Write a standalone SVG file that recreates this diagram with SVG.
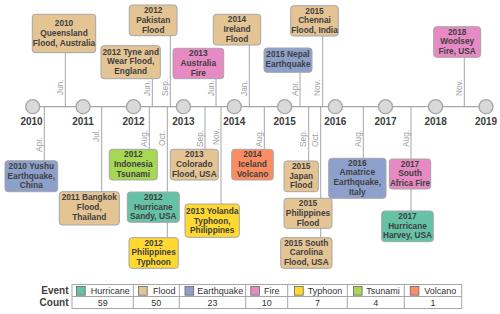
<svg xmlns="http://www.w3.org/2000/svg" width="500" height="314" viewBox="0 0 500 314">
<style>
.bx{stroke:#a6a6a6;stroke-width:1}
.fl{fill:#e5c494}.hu{fill:#66c2a5}.eq{fill:#8da0cb}.fi{fill:#e78ac3}.ty{fill:#ffd92f}.ts{fill:#a6d854}.vo{fill:#fc8d62}
.bt{font-family:"Liberation Sans",Arial,sans-serif;font-weight:bold;font-size:8.3px;fill:#404040;text-anchor:middle}
.yr{font-family:"Liberation Sans",Arial,sans-serif;font-weight:bold;font-size:10px;fill:#404040;text-anchor:middle}
.mo{font-family:"Liberation Sans",Arial,sans-serif;font-size:8.3px;fill:#a0a0a0}
.cn line{stroke:#a6a6a6;stroke-width:1}
.yc{fill:#d9d9d9;stroke:#a6a6a6;stroke-width:1.3}
.lg{font-family:"Liberation Sans",Arial,sans-serif;font-size:9px;fill:#333;text-anchor:middle}
.lh{font-family:"Liberation Sans",Arial,sans-serif;font-weight:bold;font-size:10px;fill:#404040;text-anchor:end}
.tb{fill:#fff;stroke:#a6a6a6;stroke-width:1}
.sw{stroke:#666;stroke-width:0.8}
</style>

<g id="connectors" class="cn">
<line x1="32.7" y1="106.7" x2="486.3" y2="106.7" style="stroke-width:1.3"/>
<line x1="65.3" y1="106.7" x2="65.3" y2="52.7"/>
<line x1="152.3" y1="106.7" x2="152.3" y2="78.7"/>
<line x1="170.3" y1="106.7" x2="170.3" y2="35.7"/>
<line x1="216" y1="106.7" x2="216" y2="78.7"/>
<line x1="249.3" y1="106.7" x2="249.3" y2="45"/>
<line x1="300" y1="106.7" x2="300" y2="72.3"/>
<line x1="322.7" y1="106.7" x2="322.7" y2="36"/>
<line x1="464.3" y1="106.7" x2="464.3" y2="57.3"/>
<line x1="44.3" y1="106.7" x2="44.3" y2="160.7"/>
<line x1="101.7" y1="106.7" x2="101.7" y2="191.7"/>
<line x1="149.3" y1="106.7" x2="149.3" y2="149.3"/>
<line x1="167.3" y1="106.7" x2="167.3" y2="237.7"/>
<line x1="205" y1="106.7" x2="205" y2="149.3"/>
<line x1="221" y1="106.7" x2="221" y2="204"/>
<line x1="264.3" y1="106.7" x2="264.3" y2="149.3"/>
<line x1="308.7" y1="106.7" x2="308.7" y2="161"/>
<line x1="320.7" y1="106.7" x2="320.7" y2="237.7"/>
<line x1="363.3" y1="106.7" x2="363.3" y2="158.3"/>
<line x1="411" y1="106.7" x2="411" y2="211"/>
</g>

<g id="months" class="mo">
<text transform="translate(62.8,95) rotate(-90)">Jun.</text>
<text transform="translate(149.8,96) rotate(-90)">Jun.</text>
<text transform="translate(167.8,96) rotate(-90)">Sep.</text>
<text transform="translate(213.5,96) rotate(-90)">Jun.</text>
<text transform="translate(246.8,96) rotate(-90)">Jan.</text>
<text transform="translate(297.5,96) rotate(-90)">Apr.</text>
<text transform="translate(320.2,96) rotate(-90)">Nov.</text>
<text transform="translate(461.8,96) rotate(-90)">Nov.</text>
<text transform="translate(41.8,152) rotate(-90)">Apr.</text>
<text transform="translate(99.2,142) rotate(-90)">Jul.</text>
<text transform="translate(146.8,147) rotate(-90)">Aug.</text>
<text transform="translate(164.8,146) rotate(-90)">Oct.</text>
<text transform="translate(202.5,147) rotate(-90)">Sep.</text>
<text transform="translate(218.5,145) rotate(-90)">Nov.</text>
<text transform="translate(261.8,147) rotate(-90)">Aug.</text>
<text transform="translate(306.2,147) rotate(-90)">Sep.</text>
<text transform="translate(318.2,147) rotate(-90)">Oct.</text>
<text transform="translate(360.8,147) rotate(-90)">Aug.</text>
<text transform="translate(408.5,147) rotate(-90)">Aug.</text>
</g>

<g id="years">
<circle class="yc" cx="32.7" cy="106.7" r="7"/><text class="yr" x="31.5" y="124.5">2010</text>
<circle class="yc" cx="83.1" cy="106.7" r="7"/><text class="yr" x="83.1" y="124.5">2011</text>
<circle class="yc" cx="133.5" cy="106.7" r="7"/><text class="yr" x="133.5" y="124.5">2012</text>
<circle class="yc" cx="183.4" cy="106.7" r="7"/><text class="yr" x="183.4" y="124.5">2013</text>
<circle class="yc" cx="234.3" cy="106.7" r="7"/><text class="yr" x="234.3" y="124.5">2014</text>
<circle class="yc" cx="284.7" cy="106.7" r="7"/><text class="yr" x="284.7" y="124.5">2015</text>
<circle class="yc" cx="335.3" cy="106.7" r="7"/><text class="yr" x="335.3" y="124.5">2016</text>
<circle class="yc" cx="385.5" cy="106.7" r="7"/><text class="yr" x="385.5" y="124.5">2017</text>
<circle class="yc" cx="435.6" cy="106.7" r="7"/><text class="yr" x="435.6" y="124.5">2018</text>
<circle class="yc" cx="486" cy="106.7" r="7"/><text class="yr" x="486" y="124.5">2019</text>
</g>

<g id="queensland"><rect class="bx fl" x="32.3" y="14.3" width="63.4" height="38.4" rx="3"/>
<text class="bt" x="64" y="26.3">2010</text><text class="bt" x="64" y="36">Queensland</text><text class="bt" x="64" y="45.7">Flood, Australia</text></g>
<g id="tyne"><rect class="bx fl" x="101" y="45.7" width="59.3" height="33" rx="3"/>
<text class="bt" x="130.7" y="54.7">2012 Tyne and</text><text class="bt" x="130.7" y="64.3">Wear Flood,</text><text class="bt" x="130.7" y="74">England</text></g>
<g id="pakistan"><rect class="bx fl" x="129.3" y="5" width="47.7" height="30.7" rx="3"/>
<text class="bt" x="153.2" y="13.1">2012</text><text class="bt" x="153.2" y="22.8">Pakistan</text><text class="bt" x="153.2" y="32.5">Flood</text></g>
<g id="australia"><rect class="bx fi" x="173" y="48.3" width="50.7" height="30.4" rx="3"/>
<text class="bt" x="198.3" y="56.3">2013</text><text class="bt" x="198.3" y="66">Australia</text><text class="bt" x="198.3" y="75.7">Fire</text></g>
<g id="ireland"><rect class="bx fl" x="213.3" y="14.3" width="47.4" height="30.7" rx="3"/>
<text class="bt" x="237" y="22.3">2014</text><text class="bt" x="237" y="32">Ireland</text><text class="bt" x="237" y="41.7">Flood</text></g>
<g id="chennai"><rect class="bx fl" x="290.7" y="5.7" width="47.6" height="30.3" rx="3"/>
<text class="bt" x="314.5" y="13.7">2015</text><text class="bt" x="314.5" y="23.4">Chennai</text><text class="bt" x="314.5" y="33.1">Flood, India</text></g>
<g id="nepal"><rect class="bx eq" x="264" y="48" width="48" height="24.3" rx="3"/>
<text class="bt" x="288" y="57.3">2015 Nepal</text><text class="bt" x="288" y="67">Earthquake</text></g>
<g id="woolsey"><rect class="bx fi" x="433.7" y="26.7" width="47" height="30.6" rx="3"/>
<text class="bt" x="457.2" y="34.7">2018</text><text class="bt" x="457.2" y="44.4">Woolsey</text><text class="bt" x="457.2" y="54.1">Fire, USA</text></g>

<g id="yushu"><rect class="bx eq" x="5" y="160.7" width="52.7" height="31" rx="3"/>
<text class="bt" x="31.3" y="168.7">2010 Yushu</text><text class="bt" x="31.3" y="178.5">Earthquake,</text><text class="bt" x="31.3" y="188.2">China</text></g>
<g id="bangkok"><rect class="bx fl" x="59.3" y="191.7" width="60" height="33.3" rx="3"/>
<text class="bt" x="89.3" y="199.7">2011 Bangkok</text><text class="bt" x="89.3" y="210">Flood,</text><text class="bt" x="89.3" y="220">Thailand</text></g>
<g id="indonesia"><rect class="bx ts" x="109.3" y="149.3" width="48" height="30.7" rx="3"/>
<text class="bt" x="133.3" y="157.3">2012</text><text class="bt" x="133.3" y="167">Indonesia</text><text class="bt" x="133.3" y="176.7">Tsunami</text></g>
<g id="sandy"><rect class="bx hu" x="127.3" y="192" width="52" height="30.3" rx="3"/>
<text class="bt" x="153.3" y="200">2012</text><text class="bt" x="153.3" y="209.7">Hurricane</text><text class="bt" x="153.3" y="219.4">Sandy, USA</text></g>
<g id="philtyphoon"><rect class="bx ty" x="129" y="237.7" width="49.3" height="30.6" rx="3"/>
<text class="bt" x="153.7" y="245.7">2012</text><text class="bt" x="153.7" y="255.4">Philippines</text><text class="bt" x="153.7" y="265.1">Typhoon</text></g>
<g id="colorado"><rect class="bx fl" x="170.3" y="149.3" width="48" height="30.7" rx="3"/>
<text class="bt" x="194.3" y="157.3">2013</text><text class="bt" x="194.3" y="167">Colorado</text><text class="bt" x="194.3" y="176.7">Flood, USA</text></g>
<g id="yolanda"><rect class="bx ty" x="185" y="204" width="54.3" height="33.3" rx="3"/>
<text class="bt" x="212.2" y="213.7">2013 Yolanda</text><text class="bt" x="212.2" y="223.7">Typhoon,</text><text class="bt" x="212.2" y="233.4">Philippines</text></g>
<g id="iceland"><rect class="bx vo" x="231.7" y="149.3" width="41.6" height="30.7" rx="3"/>
<text class="bt" x="252.5" y="157.3">2014</text><text class="bt" x="252.5" y="167">Iceland</text><text class="bt" x="252.5" y="176.7">Volcano</text></g>
<g id="japan"><rect class="bx fl" x="284" y="161" width="34.3" height="30.7" rx="3"/>
<text class="bt" x="301.2" y="169">2015</text><text class="bt" x="301.2" y="178.7">Japan</text><text class="bt" x="301.2" y="188.4">Flood</text></g>
<g id="philflood"><rect class="bx fl" x="284" y="198.3" width="48" height="30" rx="3"/>
<text class="bt" x="308" y="206.3">2015</text><text class="bt" x="308" y="216">Philippines</text><text class="bt" x="308" y="225.7">Flood</text></g>
<g id="southcarolina"><rect class="bx fl" x="280.7" y="237.7" width="51.3" height="30.6" rx="3"/>
<text class="bt" x="306.3" y="245.7">2015 South</text><text class="bt" x="306.3" y="255.4">Carolina</text><text class="bt" x="306.3" y="265.1">Flood, USA</text></g>
<g id="amatrice"><rect class="bx eq" x="328.7" y="158.3" width="57.3" height="40" rx="3"/>
<text class="bt" x="357.3" y="165.7">2016</text><text class="bt" x="357.3" y="175.4">Amatrice</text><text class="bt" x="357.3" y="185.1">Earthquake,</text><text class="bt" x="357.3" y="194.8">Italy</text></g>
<g id="southafrica"><rect class="bx fi" x="389.3" y="159" width="41.4" height="30" rx="3"/>
<text class="bt" x="410" y="166.7">2017</text><text class="bt" x="410" y="176.3">South</text><text class="bt" x="410" y="186" textLength="40" lengthAdjust="spacingAndGlyphs">Africa Fire</text></g>
<g id="harvey"><rect class="bx hu" x="381.7" y="211" width="51.6" height="30.7" rx="3"/>
<text class="bt" x="407.5" y="219">2017</text><text class="bt" x="407.5" y="228.7">Hurricane</text><text class="bt" x="407.5" y="238.4">Harvey, USA</text></g>

<g id="legend">
<text class="lh" x="68.5" y="293.8">Event</text>
<text class="lh" x="68.5" y="305.8">Count</text>
<rect class="tb" x="72" y="284.5" width="389.7" height="24"/>
<line x1="72" y1="296.5" x2="461.7" y2="296.5" stroke="#a6a6a6"/>
<g stroke="#a6a6a6">
<line x1="133.3" y1="284.5" x2="133.3" y2="308.5"/>
<line x1="179.3" y1="284.5" x2="179.3" y2="308.5"/>
<line x1="245.7" y1="284.5" x2="245.7" y2="308.5"/>
<line x1="287.7" y1="284.5" x2="287.7" y2="308.5"/>
<line x1="347.3" y1="284.5" x2="347.3" y2="308.5"/>
<line x1="404.3" y1="284.5" x2="404.3" y2="308.5"/>
</g>
<rect class="sw hu" x="76.5" y="286.5" width="8.7" height="8.7"/>
<rect class="sw fl" x="138.5" y="286.5" width="8.7" height="8.7"/>
<rect class="sw eq" x="185" y="286.5" width="8.7" height="8.7"/>
<rect class="sw fi" x="250.8" y="286.5" width="8.7" height="8.7"/>
<rect class="sw ty" x="294.5" y="286.5" width="8.7" height="8.7"/>
<rect class="sw ts" x="353.4" y="286.5" width="8.7" height="8.7"/>
<rect class="sw vo" x="410.2" y="286.5" width="8.7" height="8.7"/>
<text class="lg" x="110.2" y="293.8">Hurricane</text>
<text class="lg" x="164.2" y="293.8">Flood</text>
<text class="lg" x="220.2" y="293.8">Earthquake</text>
<text class="lg" x="271.8" y="293.8">Fire</text>
<text class="lg" x="325" y="293.8">Typhoon</text>
<text class="lg" x="383" y="293.8">Tsunami</text>
<text class="lg" x="440.2" y="293.8">Volcano</text>
<text class="lg" x="102.7" y="305.8">59</text>
<text class="lg" x="156.3" y="305.8">50</text>
<text class="lg" x="212.5" y="305.8">23</text>
<text class="lg" x="266.7" y="305.8">10</text>
<text class="lg" x="317.5" y="305.8">7</text>
<text class="lg" x="375.8" y="305.8">4</text>
<text class="lg" x="433" y="305.8">1</text>
</g>
</svg>
